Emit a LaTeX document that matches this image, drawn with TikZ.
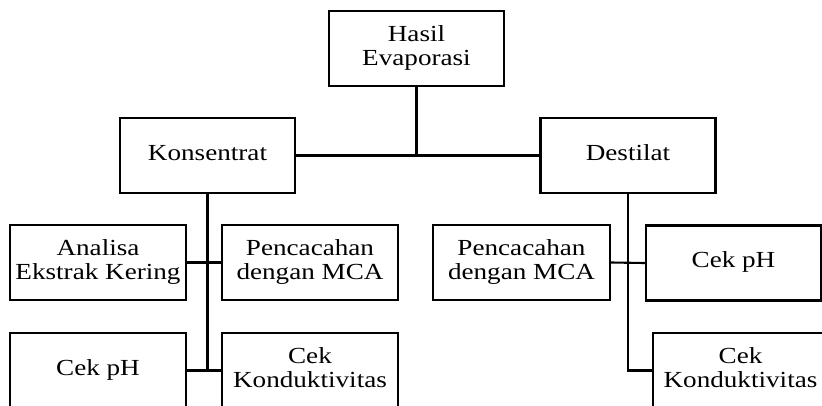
\documentclass[tikz,border=0pt]{standalone}
\usepackage{fontspec}
\setmainfont{Liberation Serif}
\usepackage{graphicx}
\newcommand{\lbl}[1]{\scalebox{1.18}[1]{\begin{tabular}{@{}c@{}}#1\end{tabular}}}
\begin{document}
\begin{tikzpicture}[x=1pt,y=-1pt,
  box/.style={draw=black, line width=2.1pt, rectangle, minimum width=175pt, minimum height=75pt, inner sep=0pt, font=\fontsize{23}{24}\selectfont},
  conn/.style={draw=black, line width=2.1pt}]
\clip (0,0) rectangle (822,405);
\fill[white] (0,0) rectangle (822,405);
\node[box] (hasil) at (416.5,48.5) {\lbl{Hasil\\Evaporasi}};
\node[box] (kons) at (207.5,155.5) {\lbl{Konsentrat}};
\node[box] (dest) at (628,155.5) {\lbl{Destilat}};
\node[box, minimum width=176pt] (analisa) at (98,262.5) {\lbl{Analisa\\Ekstrak Kering}};
\node[box, minimum width=176pt] (pencL) at (310,262.5) {\lbl{Pencacahan\\dengan MCA}};
\node[box, minimum width=176pt] (phL) at (98,370.5) {\lbl{Cek pH}};
\node[box, minimum width=176pt] (konL) at (310,370.5) {\lbl{Cek\\Konduktivitas}};
\node[box, minimum width=177pt] (pencR) at (521.5,262.5) {\lbl{Pencacahan\\dengan MCA}};
\node[box] (phR) at (733.5,263) {\lbl{Cek pH}};
\node[box] (konR) at (740.5,370.5) {\lbl{Cek\\Konduktivitas}};
\coordinate (j0) at (416.5,155.5);
\coordinate (jL2) at (207.5,370.5);
\coordinate (jR2) at (628,370.5);
\draw[conn] (hasil.south) -- (j0);
\draw[conn] (kons.east) -- (dest.west);
\draw[conn] (kons.south) -- (jL2);
\draw[conn] (analisa.east) -- (pencL.west);
\draw[conn] (phL.east) -- (konL.west);
\draw[conn] (dest.south) -- (jR2) -- (konR.west);
\draw[conn] (pencR.east) -- (phR.west);
\end{tikzpicture}
\end{document}
